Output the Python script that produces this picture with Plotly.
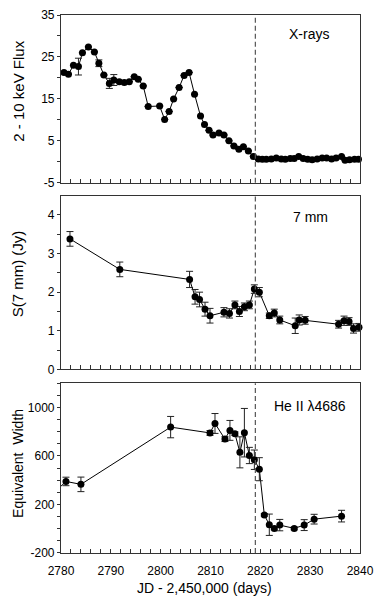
import plotly.graph_objects as go

# ---------------- data ----------------
x_xray = [2780.6, 2781.5, 2782.5, 2783.5, 2784.3, 2785.5, 2786.7, 2787.6, 2788.6, 2789.7,
          2790.6, 2791.7, 2792.7, 2793.7, 2794.7, 2795.5, 2796.5, 2797.5, 2799.8, 2800.8,
          2801.7, 2802.6, 2803.7, 2804.7, 2805.7, 2806.8, 2808.0, 2808.8, 2809.7, 2810.5,
          2811.7, 2812.7, 2813.7, 2814.7, 2815.7, 2816.6, 2817.6, 2818.6, 2819.6, 2820.4,
          2821.2, 2822.2, 2823.2, 2824.2, 2825.0, 2826.0, 2826.8, 2827.7, 2828.6, 2829.5,
          2830.4, 2831.4, 2832.4, 2833.3, 2834.3, 2835.2, 2836.3, 2837.0, 2837.9, 2838.9,
          2839.7]
y_xray = [21.3, 20.9, 23.0, 22.7, 26.0, 27.4, 26.2, 23.5, 20.7, 18.7,
          19.5, 19.1, 18.9, 19.1, 20.3, 19.7, 18.1, 13.2, 13.3, 10.1,
          12.0, 15.0, 17.7, 20.6, 21.3, 16.1, 10.9, 8.9, 7.5, 6.4,
          6.9, 6.4, 5.0, 3.8, 3.0, 3.6, 2.6, 1.3, 0.7, 0.6,
          0.6, 0.7, 0.9, 0.7, 0.6, 0.8, 0.8, 1.3, 0.8, 0.6,
          0.5, 0.7, 0.9, 0.9, 0.7, 0.9, 1.3, 0.4, 0.5, 0.6,
          0.6]
e_xray = [0, 0, 0, 2.0, 0, 0, 0, 0.8, 0, 1.2,
          1.3, 0, 0, 0, 0, 0, 0, 0, 0, 0,
          0, 0, 0, 0, 0, 0, 0, 0, 0, 0,
          0, 0, 0, 0, 0, 0, 0, 0, 0, 0,
          0, 0, 0, 0, 0, 0, 0, 0, 0, 0,
          0, 0, 0, 0, 0, 0, 0, 0, 0, 0,
          0]

x_7mm = [2781.8, 2791.8, 2805.8, 2806.9, 2807.8, 2808.9, 2809.9, 2812.7, 2813.8, 2814.9,
         2815.8, 2816.8, 2817.8, 2818.8, 2819.8, 2821.8, 2822.8, 2823.9, 2827.0, 2827.8,
         2829.0, 2835.7, 2836.8, 2837.8, 2838.7, 2839.8]
y_7mm = [3.38, 2.59, 2.33, 1.88, 1.81, 1.56, 1.39, 1.48, 1.45, 1.67,
         1.50, 1.62, 1.67, 2.08, 2.00, 1.39, 1.46, 1.28, 1.13, 1.28,
         1.27, 1.17, 1.26, 1.24, 1.06, 1.09]
e_7mm = [0.19, 0.19, 0.21, 0.19, 0.19, 0.18, 0.19, 0.12, 0.12, 0.10,
         0.13, 0.10, 0.10, 0.11, 0.12, 0.07, 0.10, 0.10, 0.20, 0.13,
         0.10, 0.10, 0.12, 0.10, 0.12, 0.10]

# an earlier observation lies just outside the plotted range (line enters from the left)
x_heii_prev = [2777.0]
y_heii_prev = [235]
x_heii = [2781.0, 2784.0, 2802.0, 2809.9, 2810.9, 2812.9, 2813.9, 2814.9, 2815.9, 2816.8,
          2817.8, 2818.8, 2819.8, 2820.8, 2821.8, 2822.8, 2823.9, 2826.8, 2828.8, 2830.8,
          2836.3]
y_heii = [390, 366, 838, 790, 868, 739, 811, 784, 630, 792,
          604, 569, 491, 114, 33, 3, 30, 3, 30, 79,
          104]
e_heii = [35, 60, 88, 20, 82, 20, 82, 15, 128, 200,
          67, 80, 95, 10, 88, 12, 47, 12, 45, 40,
          48]

t_event = 2819.0

x_ticks = list(range(2780, 2841, 2))
x_ticktext = [str(v) if v % 10 == 0 else "" for v in x_ticks]
y1_ticks = list(range(-5, 36, 5))
y1_ticktext = [str(v) if (v + 5) % 10 == 0 else "" for v in y1_ticks]
y2_ticks = [0, 0.5, 1, 1.5, 2, 2.5, 3, 3.5, 4]
y2_ticktext = ["0", "", "1", "", "2", "", "3", "", "4"]
y3_ticks = list(range(-200, 1201, 100))
y3_ticktext = [str(v) if (v + 200) % 400 == 0 else "" for v in y3_ticks]

# ---------------- layout geometry (pixels) ----------------
W, H = 382, 610
L, R, T, B = 61, 365, 8, 553
PW, PH = R - L, B - T


def py(ypix):
    return (B - ypix) / PH


def px(xpix):
    return (xpix - L) / PW


FONT = "Liberation Sans, Arial, Helvetica, sans-serif"
AXC = "#333333"

fig = go.Figure()

panels = [
    ("x", "y", x_xray, y_xray, e_xray, None, None),
    ("x2", "y2", x_7mm, y_7mm, e_7mm, None, None),
    ("x3", "y3", x_heii, y_heii, e_heii, x_heii_prev, y_heii_prev),
]
for xa, ya, xs, ys, es, xp, yp in panels:
    lx = (xp or []) + xs
    ly = (yp or []) + ys
    fig.add_trace(go.Scatter(x=lx, y=ly, mode="lines", xaxis=xa, yaxis=ya,
                             line=dict(color="black", width=1), showlegend=False,
                             hoverinfo="skip"))
    fig.add_trace(go.Scatter(x=xs, y=ys, mode="markers", xaxis=xa, yaxis=ya,
                             marker=dict(color="black", size=7),
                             error_y=dict(type="data", array=es, visible=True,
                                          color="#222222", thickness=1, width=3.5),
                             cliponaxis=False, showlegend=False))

common_x = dict(range=[2780, 2840], tickmode="array", tickvals=x_ticks,
                ticks="inside", ticklen=4, tickcolor=AXC, tickwidth=1,
                showline=True, linecolor=AXC, linewidth=1.2, mirror=True,
                showgrid=False, zeroline=False)
common_y = dict(tickmode="array", ticks="outside", ticklen=3, tickcolor=AXC,
                tickwidth=1, showline=True, linecolor=AXC, linewidth=1.2,
                mirror=True, showgrid=False, zeroline=False,
                tickfont=dict(size=12, color="black", family=FONT))

d1 = [py(178), 1.0]
d2 = [py(367), py(191)]
d3 = [0.0, py(381)]

fig.update_layout(
    width=W, height=H,
    margin=dict(l=L, r=W - R, t=T, b=H - B, pad=0),
    paper_bgcolor="white", plot_bgcolor="white",
    font=dict(family=FONT, color="black", size=12),
    xaxis=dict(common_x, anchor="y", showticklabels=False, ticktext=x_ticktext),
    xaxis2=dict(common_x, anchor="y2", matches="x", showticklabels=False, ticktext=x_ticktext),
    xaxis3=dict(common_x, anchor="y3", matches="x", showticklabels=True, ticktext=x_ticktext,
                tickfont=dict(size=12, color="black", family=FONT), ticklabelstandoff=6),
    yaxis=dict(common_y, domain=d1, anchor="x", range=[-5, 35], tickvals=y1_ticks,
               ticktext=y1_ticktext),
    yaxis2=dict(common_y, domain=d2, anchor="x2", range=[0, 4.5], tickvals=y2_ticks,
                ticktext=y2_ticktext),
    yaxis3=dict(common_y, domain=d3, anchor="x3", range=[-200, 1200], tickvals=y3_ticks,
                ticktext=y3_ticktext),
)

# dashed event line in each panel
for xa, ya in [("x", "y"), ("x2", "y2"), ("x3", "y3")]:
    fig.add_shape(type="line", xref=xa, yref=f"{ya} domain", x0=t_event, x1=t_event,
                  y0=0, y1=1, line=dict(color="#555555", width=1.2, dash="5px,3px"),
                  layer="above")

ann = [
    dict(text="X-rays", x=px(313), y=py(27), size=14),
    dict(text="7 mm", x=px(315), y=py(213), size=14),
    dict(text="He II λ4686", x=px(314), y=py(404), size=14),
]
for a in ann:
    fig.add_annotation(text=a["text"], x=a["x"], y=a["y"], xref="paper", yref="paper",
                       showarrow=False, xanchor="center", yanchor="middle",
                       font=dict(size=a["size"], color="black", family=FONT))

ytitles = [
    ("2 - 10 keV Flux", py(85), 15),
    ("S(7 mm) (Jy)", py(270), 15),
    ("Equivalent  Width", py(462), 14),
]
for txt, yy, sz in ytitles:
    fig.add_annotation(text=txt, x=px(17), y=yy, xref="paper", yref="paper",
                       showarrow=False, textangle=-90, xanchor="center", yanchor="middle",
                       font=dict(size=sz, color="black", family=FONT))

fig.add_annotation(text="JD - 2,450,000 (days)", x=px(207), y=py(588), xref="paper",
                   yref="paper", showarrow=False, xanchor="center", yanchor="middle",
                   font=dict(size=14, color="black", family=FONT))

fig.write_html("out.html", config={"displayModeBar": False},
               post_script="document.body.style.margin='0px';document.body.style.padding='0px';")
